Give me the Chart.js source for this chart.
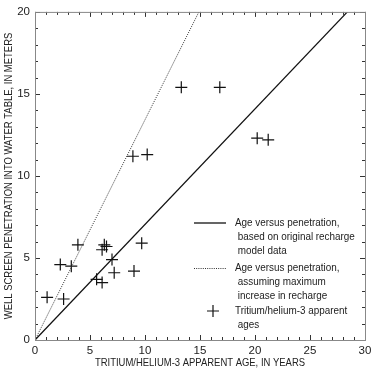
<!DOCTYPE html>
<html>
<head>
<meta charset="utf-8">
<script src="https://cdn.jsdelivr.net/npm/chart.js@4.4.1/dist/chart.umd.min.js"></script>
<style>
  html, body { margin: 0; padding: 0; background: #fff; }
  #wrap { width: 377px; height: 373px; position: relative; }
</style>
</head>
<body>
<div id="wrap"><canvas id="chart"></canvas></div>
<script>
// apparent ages (years) and well screen penetration (meters)
const ageYears = [13.3, 16.8, 8.9, 10.2, 20.2, 21.2, 1.1, 2.6, 2.3, 3.3, 3.9, 5.6, 6.1, 6.1, 6.3, 6.5, 7.0, 7.2, 9.0, 9.7];
const penetration = [15.4, 15.4, 11.2, 11.3, 12.3, 12.2, 2.6, 2.5, 4.6, 4.5, 5.8, 3.7, 3.5, 5.5, 5.8, 5.7, 4.9, 4.1, 4.2, 5.9];

// model lines
const originalLineX = [0, 28.4];
const originalLineY = [0, 20];
const maxRechargeLineX = [0, 14.9];
const maxRechargeLineY = [0, 20];

const xTicks = [0, 5, 10, 15, 20, 25, 30];
const yTicks = [0, 5, 10, 15, 20];

const xTitle = "TRITIUM/HELIUM-3 APPARENT AGE, IN YEARS";
const yTitle = "WELL SCREEN PENETRATION INTO WATER TABLE, IN METERS";

const legendItems = [
  ["Age versus penetration,", " based on original recharge", " model data"],
  ["Age versus penetration,", " assuming maximum", " increase in recharge"],
  ["Tritium/helium-3 apparent", " ages"]
];

const FONT = "'Liberation Sans', Arial, sans-serif";
const NARROW = 0.86; // squeeze text to look like a condensed face

function toPoints(xs, ys) {
  return xs.map((x, i) => ({ x: x, y: ys[i] }));
}

function narrowText(ctx, text, x, y, align) {
  ctx.save();
  ctx.translate(x, y);
  ctx.scale(NARROW, 1);
  ctx.textAlign = align || "left";
  ctx.fillText(text, 0, 0);
  ctx.restore();
}

// inward ticks on all four sides
const innerTicks = {
  id: "innerTicks",
  afterDraw(chart) {
    const ctx = chart.ctx;
    const a = chart.chartArea;
    const xs = chart.scales.x, ys = chart.scales.y;
    ctx.save();
    ctx.strokeStyle = "#333";
    ctx.lineWidth = 1;
    ctx.beginPath();
    for (let v = 0; v <= 30; v++) {
      const px = Math.round(xs.getPixelForValue(v)) + 0.5;
      const len = v % 5 === 0 ? 5 : 3;
      ctx.moveTo(px, a.bottom); ctx.lineTo(px, a.bottom - len);
      ctx.moveTo(px, a.top); ctx.lineTo(px, a.top + len);
    }
    for (let v = 0; v <= 20; v++) {
      const py = Math.round(ys.getPixelForValue(v)) + 0.5;
      const len = v % 5 === 0 ? 5 : 3;
      ctx.moveTo(a.left, py); ctx.lineTo(a.left + len, py);
      ctx.moveTo(a.right, py); ctx.lineTo(a.right - len, py);
    }
    ctx.stroke();
    ctx.strokeStyle = "#888";
    ctx.strokeRect(a.left + 0.5, a.top + 0.5, a.right - a.left, a.bottom - a.top);
    ctx.restore();
  }
};

// axis titles and legend block, drawn with condensed text
const textLayer = {
  id: "textLayer",
  afterDraw(chart) {
    const ctx = chart.ctx;
    const a = chart.chartArea;
    ctx.save();
    ctx.fillStyle = "#222";
    ctx.textBaseline = "middle";
    ctx.font = "11px " + FONT;
    narrowText(ctx, xTitle, (a.left + a.right) / 2, 363, "center");
    ctx.save();
    ctx.translate(9, (a.top + a.bottom) / 2);
    ctx.rotate(-Math.PI / 2);
    narrowText(ctx, yTitle, 0, 0, "center");
    ctx.restore();

    ctx.font = "11.5px " + FONT;
    const textX = 235;
    const starts = [223, 268, 311];
    legendItems.forEach((lines, i) => {
      lines.forEach((t, j) => narrowText(ctx, t, textX, starts[i] + j * 14, "left"));
    });
    ctx.strokeStyle = "#111";
    ctx.lineWidth = 1.3;
    ctx.beginPath(); ctx.moveTo(194, 223); ctx.lineTo(226, 223); ctx.stroke();
    ctx.strokeStyle = "#333";
    ctx.lineWidth = 1;
    ctx.setLineDash([1, 1.2]);
    ctx.beginPath(); ctx.moveTo(194, 268.5); ctx.lineTo(226, 268.5); ctx.stroke();
    ctx.setLineDash([]);
    ctx.strokeStyle = "#111";
    ctx.lineWidth = 1.2;
    ctx.beginPath();
    ctx.moveTo(207, 311); ctx.lineTo(219, 311);
    ctx.moveTo(213, 305); ctx.lineTo(213, 317);
    ctx.stroke();
    ctx.restore();
  }
};

new Chart(document.getElementById("chart"), {
  type: "scatter",
  data: {
    datasets: [
      {
        type: "line",
        data: toPoints(originalLineX, originalLineY),
        borderColor: "#111",
        borderWidth: 1.3,
        pointRadius: 0,
        fill: false
      },
      {
        type: "line",
        data: toPoints(maxRechargeLineX, maxRechargeLineY),
        borderColor: "#333",
        borderWidth: 1,
        borderDash: [1, 1.2],
        pointRadius: 0,
        fill: false
      },
      {
        data: toPoints(ageYears, penetration),
        pointStyle: "cross",
        pointRadius: 6,
        borderColor: "#111",
        borderWidth: 1.2,
        backgroundColor: "#111"
      }
    ]
  },
  options: {
    responsive: true,
    maintainAspectRatio: false,
    animation: false,
    layout: { padding: { top: 9, right: 12, left: 0, bottom: 0 } },
    plugins: { legend: { display: false }, tooltip: { enabled: false } },
    scales: {
      x: {
        type: "linear",
        min: 0, max: 30,
        afterBuildTicks: s => { s.ticks = xTicks.map(v => ({ value: v })); },
        afterFit: s => { s.height = 33; },
        grid: { display: false, drawTicks: false },
        border: { display: false },
        ticks: { color: "#222", padding: 4, font: { family: FONT, size: 11.5 } }
      },
      y: {
        type: "linear",
        min: 0, max: 20,
        afterBuildTicks: s => { s.ticks = yTicks.map(v => ({ value: v })); },
        afterFit: s => { s.width = 35; },
        grid: { display: false, drawTicks: false },
        border: { display: false },
        ticks: { color: "#222", padding: 5, font: { family: FONT, size: 11.5 } }
      }
    }
  },
  plugins: [innerTicks, textLayer]
});
</script>
</body>
</html>
